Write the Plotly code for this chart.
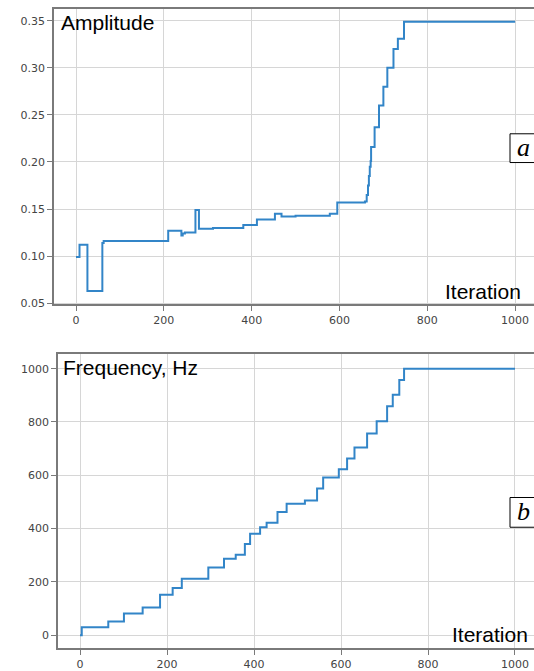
import plotly.graph_objects as go

# ---- data (step functions: value holds from each iteration until the next) ----
amp_iter = [0, 8, 26, 60, 63, 210, 240, 243, 248, 270, 272, 280, 312, 381, 412,
            453, 468, 500, 540, 578, 595, 658, 662, 665, 667, 669, 671, 672,
            680, 690, 700, 709, 723, 733, 747, 1000]
amp_val = [0.099, 0.112, 0.063, 0.114, 0.116, 0.127, 0.122, 0.124, 0.125, 0.125, 0.149, 0.129, 0.130, 0.133, 0.139,
           0.145, 0.142, 0.143, 0.143, 0.145, 0.157, 0.158, 0.165, 0.175, 0.185, 0.195, 0.201, 0.216,
           0.237, 0.260, 0.280, 0.300, 0.320, 0.331, 0.349, 0.349]

freq_iter = [0, 4, 65, 101, 144, 184, 213, 234, 295, 331, 358, 379, 391, 414, 429,
             454, 475, 517, 545, 559, 595, 614, 631, 660, 682, 706, 719, 734, 745, 1000]
freq_val = [0, 30, 52, 82, 104, 152, 177, 212, 254, 287, 302, 342, 381, 405, 422,
            462, 493, 506, 551, 592, 623, 663, 704, 757, 803, 859, 902, 958, 1000, 1000]

x_ticks = [0, 200, 400, 600, 800, 1000]
amp_ticks = [0.05, 0.10, 0.15, 0.20, 0.25, 0.30, 0.35]
amp_tick_text = ["0.05", "0.10", "0.15", "0.20", "0.25", "0.30", "0.35"]
freq_ticks = [0, 200, 400, 600, 800, 1000]

W, H = 534, 671
def px(x):
    return x / W
def py(y):
    return 1 - y / H

LINE = "#3285c8"
AXC = "#7a7a7a"
GRID = "#d6d6d6"
TICKF = dict(family="DejaVu Sans", size=11, color="#444444")

fig = go.Figure()
fig.add_trace(go.Scatter(x=amp_iter, y=amp_val, mode="lines", line=dict(color=LINE, width=2, shape="hv"),
                         xaxis="x", yaxis="y", showlegend=False, hoverinfo="skip"))
fig.add_trace(go.Scatter(x=freq_iter, y=freq_val, mode="lines", line=dict(color=LINE, width=2, shape="hv"),
                         xaxis="x2", yaxis="y2", showlegend=False, hoverinfo="skip"))

common_x = dict(tickvals=x_ticks, showgrid=True, gridcolor=GRID, gridwidth=1, zeroline=False,
                showline=True, linecolor=AXC, linewidth=1.5, mirror=True, ticks="outside", ticklen=5,
                tickcolor=AXC, tickfont=TICKF)
common_y = dict(showgrid=True, gridcolor=GRID, gridwidth=1, zeroline=False,
                showline=True, linecolor=AXC, linewidth=1.5, mirror=False, ticks="outside", ticklen=5,
                tickcolor=AXC, tickfont=TICKF)

fig.update_layout(
    width=W, height=H,
    margin=dict(l=0, r=0, t=0, b=0),
    paper_bgcolor="white", plot_bgcolor="white",
    xaxis=dict(domain=[px(54), 1], range=[-50.1, 1043], anchor="y", **common_x),
    yaxis=dict(domain=[py(307), py(9)], range=[0.0489, 0.3626], anchor="x",
               tickvals=amp_ticks, ticktext=amp_tick_text, **common_y),
    xaxis2=dict(domain=[px(58), 1], range=[-50.6, 1043.7], anchor="y2", **common_x),
    yaxis2=dict(domain=[py(654), py(357)], range=[-48.3, 1055.8], anchor="x2",
                tickvals=freq_ticks, **common_y),
)

LABF = dict(family="Liberation Sans, Arial", size=21, color="black")
annots = [
    dict(text="Amplitude", x=px(59), y=py(23), xanchor="left", yanchor="middle"),
    dict(text="Iteration", x=px(443), y=py(294), xanchor="left", yanchor="middle"),
    dict(text="Frequency, Hz", x=px(61), y=py(371), xanchor="left", yanchor="middle"),
    dict(text="Iteration", x=px(450), y=py(640), xanchor="left", yanchor="middle"),
]
for a in annots:
    fig.add_annotation(xref="paper", yref="paper", showarrow=False, font=LABF, **a)

# boxed panel letters
for (y0, y1, letter) in [(135, 164, "a"), (502, 532, "b")]:
    fig.add_shape(type="rect", xref="paper", yref="paper", x0=px(510), x1=px(560), y0=py(y1), y1=py(y0),
                  line=dict(color="black", width=1), fillcolor="white", layer="above")
    fig.add_annotation(xref="paper", yref="paper", x=px(515), y=py((y0 + y1) / 2 - 1), text="<i>%s</i>" % letter,
                       showarrow=False, xanchor="left", yanchor="middle",
                       font=dict(family="Liberation Serif, Times New Roman", size=26, color="black"))

fig.write_html("out.html", config={"displayModeBar": False},
               post_script="document.body.style.margin='0px';document.body.style.overflow='hidden';")
